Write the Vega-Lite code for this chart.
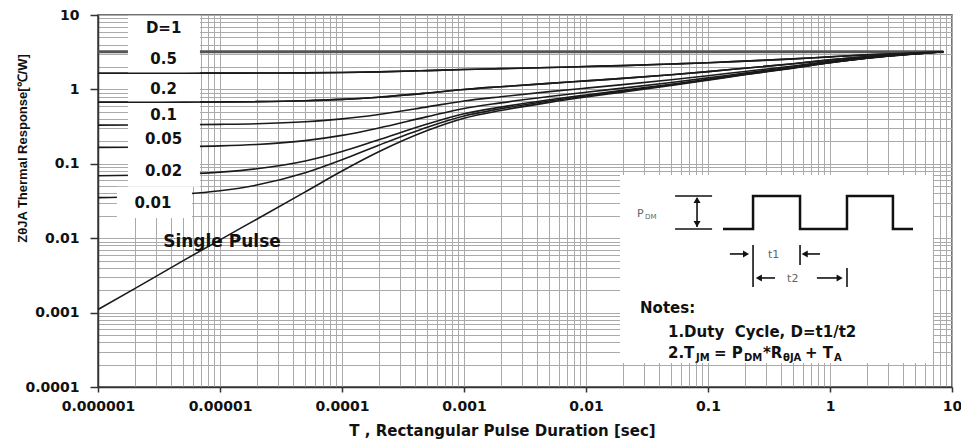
{
  "$schema": "https://vega.github.io/schema/vega-lite/v6.json",
  "width": 854,
  "height": 372,
  "autosize": "none",
  "padding": {"left": 98, "top": 15, "right": 9, "bottom": 57},
  "background": "white",
  "config": {
    "view": {"stroke": "#444444", "strokeWidth": 1.5},
    "axis": {
      "domainColor": "#333333",
      "domainWidth": 1.5,
      "tickColor": "#333333",
      "tickWidth": 1.5,
      "grid": true,
      "gridColor": "#aaaaaa",
      "gridWidth": 1,
      "labelFont": "DejaVu Sans",
      "labelFontWeight": "bold",
      "labelFontSize": 14,
      "labelColor": "#111111",
      "labelOverlap": false,
      "titleColor": "#111111",
      "titleFontWeight": "bold"
    }
  },
  "datasets": {
    "curves": [
      {"d": "1", "x": 1e-6, "y": 3.2}, {"d": "1", "x": 8.5, "y": 3.2},
      {"d": "0.5", "x": 1e-6, "y": 1.65}, {"d": "0.5", "x": 2e-6, "y": 1.65}, {"d": "0.5", "x": 5e-6, "y": 1.65}, {"d": "0.5", "x": 1e-5, "y": 1.655}, {"d": "0.5", "x": 2e-5, "y": 1.66}, {"d": "0.5", "x": 5e-5, "y": 1.67}, {"d": "0.5", "x": 0.0001, "y": 1.69}, {"d": "0.5", "x": 0.0002, "y": 1.72}, {"d": "0.5", "x": 0.0005, "y": 1.79}, {"d": "0.5", "x": 0.001, "y": 1.85}, {"d": "0.5", "x": 0.002, "y": 1.9}, {"d": "0.5", "x": 0.005, "y": 1.97}, {"d": "0.5", "x": 0.01, "y": 2.03}, {"d": "0.5", "x": 0.02, "y": 2.09}, {"d": "0.5", "x": 0.05, "y": 2.19}, {"d": "0.5", "x": 0.1, "y": 2.28}, {"d": "0.5", "x": 0.2, "y": 2.4}, {"d": "0.5", "x": 0.5, "y": 2.57}, {"d": "0.5", "x": 1, "y": 2.74}, {"d": "0.5", "x": 2, "y": 2.91}, {"d": "0.5", "x": 5, "y": 3.1}, {"d": "0.5", "x": 8.5, "y": 3.2},
      {"d": "0.2", "x": 1e-6, "y": 0.671}, {"d": "0.2", "x": 2e-6, "y": 0.672}, {"d": "0.2", "x": 5e-6, "y": 0.674}, {"d": "0.2", "x": 1e-5, "y": 0.678}, {"d": "0.2", "x": 2e-5, "y": 0.684}, {"d": "0.2", "x": 5e-5, "y": 0.704}, {"d": "0.2", "x": 0.0001, "y": 0.734}, {"d": "0.2", "x": 0.0002, "y": 0.786}, {"d": "0.2", "x": 0.0005, "y": 0.894}, {"d": "0.2", "x": 0.001, "y": 0.998}, {"d": "0.2", "x": 0.002, "y": 1.086}, {"d": "0.2", "x": 0.005, "y": 1.206}, {"d": "0.2", "x": 0.01, "y": 1.302}, {"d": "0.2", "x": 0.02, "y": 1.406}, {"d": "0.2", "x": 0.05, "y": 1.574}, {"d": "0.2", "x": 0.1, "y": 1.734}, {"d": "0.2", "x": 0.2, "y": 1.926}, {"d": "0.2", "x": 0.5, "y": 2.214}, {"d": "0.2", "x": 1, "y": 2.494}, {"d": "0.2", "x": 2, "y": 2.766}, {"d": "0.2", "x": 5, "y": 3.07}, {"d": "0.2", "x": 8.5, "y": 3.2},
      {"d": "0.1", "x": 1e-6, "y": 0.331}, {"d": "0.1", "x": 2e-6, "y": 0.332}, {"d": "0.1", "x": 5e-6, "y": 0.335}, {"d": "0.1", "x": 1e-5, "y": 0.339}, {"d": "0.1", "x": 2e-5, "y": 0.346}, {"d": "0.1", "x": 5e-5, "y": 0.368}, {"d": "0.1", "x": 0.0001, "y": 0.402}, {"d": "0.1", "x": 0.0002, "y": 0.461}, {"d": "0.1", "x": 0.0005, "y": 0.582}, {"d": "0.1", "x": 0.001, "y": 0.699}, {"d": "0.1", "x": 0.002, "y": 0.798}, {"d": "0.1", "x": 0.005, "y": 0.933}, {"d": "0.1", "x": 0.01, "y": 1.041}, {"d": "0.1", "x": 0.02, "y": 1.158}, {"d": "0.1", "x": 0.05, "y": 1.347}, {"d": "0.1", "x": 0.1, "y": 1.527}, {"d": "0.1", "x": 0.2, "y": 1.743}, {"d": "0.1", "x": 0.5, "y": 2.067}, {"d": "0.1", "x": 1, "y": 2.382}, {"d": "0.1", "x": 2, "y": 2.688}, {"d": "0.1", "x": 5, "y": 3.03}, {"d": "0.1", "x": 8.5, "y": 3.2},
      {"d": "0.05", "x": 1e-6, "y": 0.166}, {"d": "0.05", "x": 2e-6, "y": 0.167}, {"d": "0.05", "x": 5e-6, "y": 0.17}, {"d": "0.05", "x": 1e-5, "y": 0.174}, {"d": "0.05", "x": 2e-5, "y": 0.182}, {"d": "0.05", "x": 5e-5, "y": 0.205}, {"d": "0.05", "x": 0.0001, "y": 0.241}, {"d": "0.05", "x": 0.0002, "y": 0.303}, {"d": "0.05", "x": 0.0005, "y": 0.431}, {"d": "0.05", "x": 0.001, "y": 0.555}, {"d": "0.05", "x": 0.002, "y": 0.659}, {"d": "0.05", "x": 0.005, "y": 0.802}, {"d": "0.05", "x": 0.01, "y": 0.916}, {"d": "0.05", "x": 0.02, "y": 1.039}, {"d": "0.05", "x": 0.05, "y": 1.239}, {"d": "0.05", "x": 0.1, "y": 1.429}, {"d": "0.05", "x": 0.2, "y": 1.657}, {"d": "0.05", "x": 0.5, "y": 2.0}, {"d": "0.05", "x": 1, "y": 2.331}, {"d": "0.05", "x": 2, "y": 2.654}, {"d": "0.05", "x": 5, "y": 3.015}, {"d": "0.05", "x": 8.5, "y": 3.2},
      {"d": "0.02", "x": 1e-6, "y": 0.069}, {"d": "0.02", "x": 2e-6, "y": 0.07}, {"d": "0.02", "x": 5e-6, "y": 0.073}, {"d": "0.02", "x": 1e-5, "y": 0.0773}, {"d": "0.02", "x": 2e-5, "y": 0.0856}, {"d": "0.02", "x": 5e-5, "y": 0.109}, {"d": "0.02", "x": 0.0001, "y": 0.146}, {"d": "0.02", "x": 0.0002, "y": 0.21}, {"d": "0.02", "x": 0.0005, "y": 0.342}, {"d": "0.02", "x": 0.001, "y": 0.47}, {"d": "0.02", "x": 0.002, "y": 0.578}, {"d": "0.02", "x": 0.005, "y": 0.725}, {"d": "0.02", "x": 0.01, "y": 0.842}, {"d": "0.02", "x": 0.02, "y": 0.97}, {"d": "0.02", "x": 0.05, "y": 1.175}, {"d": "0.02", "x": 0.1, "y": 1.371}, {"d": "0.02", "x": 0.2, "y": 1.607}, {"d": "0.02", "x": 0.5, "y": 1.959}, {"d": "0.02", "x": 1, "y": 2.302}, {"d": "0.02", "x": 2, "y": 2.636}, {"d": "0.02", "x": 5, "y": 3.0}, {"d": "0.02", "x": 8.5, "y": 3.2},
      {"d": "0.01", "x": 1e-6, "y": 0.0351}, {"d": "0.01", "x": 2e-6, "y": 0.0361}, {"d": "0.01", "x": 5e-6, "y": 0.039}, {"d": "0.01", "x": 1e-5, "y": 0.0434}, {"d": "0.01", "x": 2e-5, "y": 0.0518}, {"d": "0.01", "x": 5e-5, "y": 0.0756}, {"d": "0.01", "x": 0.0001, "y": 0.113}, {"d": "0.01", "x": 0.0002, "y": 0.178}, {"d": "0.01", "x": 0.0005, "y": 0.311}, {"d": "0.01", "x": 0.001, "y": 0.44}, {"d": "0.01", "x": 0.002, "y": 0.549}, {"d": "0.01", "x": 0.005, "y": 0.697}, {"d": "0.01", "x": 0.01, "y": 0.816}, {"d": "0.01", "x": 0.02, "y": 0.945}, {"d": "0.01", "x": 0.05, "y": 1.153}, {"d": "0.01", "x": 0.1, "y": 1.351}, {"d": "0.01", "x": 0.2, "y": 1.588}, {"d": "0.01", "x": 0.5, "y": 1.945}, {"d": "0.01", "x": 1, "y": 2.291}, {"d": "0.01", "x": 2, "y": 2.628}, {"d": "0.01", "x": 5, "y": 3.0}, {"d": "0.01", "x": 8.5, "y": 3.2},
      {"d": "single", "x": 1e-6, "y": 0.0011}, {"d": "single", "x": 2e-6, "y": 0.0021}, {"d": "single", "x": 5e-6, "y": 0.005}, {"d": "single", "x": 1e-5, "y": 0.0095}, {"d": "single", "x": 2e-5, "y": 0.018}, {"d": "single", "x": 5e-5, "y": 0.042}, {"d": "single", "x": 0.0001, "y": 0.08}, {"d": "single", "x": 0.0002, "y": 0.145}, {"d": "single", "x": 0.0005, "y": 0.28}, {"d": "single", "x": 0.001, "y": 0.41}, {"d": "single", "x": 0.002, "y": 0.52}, {"d": "single", "x": 0.005, "y": 0.67}, {"d": "single", "x": 0.01, "y": 0.79}, {"d": "single", "x": 0.02, "y": 0.92}, {"d": "single", "x": 0.05, "y": 1.13}, {"d": "single", "x": 0.1, "y": 1.33}, {"d": "single", "x": 0.2, "y": 1.57}, {"d": "single", "x": 0.5, "y": 1.93}, {"d": "single", "x": 1, "y": 2.28}, {"d": "single", "x": 2, "y": 2.62}, {"d": "single", "x": 5, "y": 3.0}, {"d": "single", "x": 8.5, "y": 3.2}
    ],
    "boxes": [
      {"x": 1.76e-6, "x2": 6.85e-6, "y": 9.8, "y2": 0.049},
      {"x": 1.43e-6, "x2": 5.89e-6, "y": 0.049, "y2": 0.0187},
      {"x": 0.019, "x2": 6.98, "y": 0.0708, "y2": 0.00021}
    ],
    "wave": [
      {"i": 1, "x": 0.1327, "y": 0.0133}, {"i": 2, "x": 0.234, "y": 0.0133}, {"i": 3, "x": 0.234, "y": 0.0369}, {"i": 4, "x": 0.568, "y": 0.0369}, {"i": 5, "x": 0.568, "y": 0.0133},
      {"i": 6, "x": 1.378, "y": 0.0133}, {"i": 7, "x": 1.378, "y": 0.0369}, {"i": 8, "x": 3.28, "y": 0.0369}, {"i": 9, "x": 3.28, "y": 0.0133}, {"i": 10, "x": 4.79, "y": 0.0133}
    ],
    "segs": [
      {"x": 0.0537, "x2": 0.108, "y": 0.0369, "y2": 0.0369},
      {"x": 0.0537, "x2": 0.108, "y": 0.0133, "y2": 0.0133},
      {"x": 0.0813, "x2": 0.0813, "y": 0.0345, "y2": 0.0141},
      {"x": 0.151, "x2": 0.197, "y": 0.00614, "y2": 0.00614},
      {"x": 0.234, "x2": 0.234, "y": 0.0081, "y2": 0.00221},
      {"x": 0.568, "x2": 0.568, "y": 0.0081, "y2": 0.00437},
      {"x": 0.635, "x2": 0.828, "y": 0.00614, "y2": 0.00614},
      {"x": 0.2666, "x2": 0.354, "y": 0.00292, "y2": 0.00292},
      {"x": 0.781, "x2": 1.164, "y": 0.00292, "y2": 0.00292},
      {"x": 1.378, "x2": 1.378, "y": 0.00398, "y2": 0.00221}
    ],
    "heads": [
      {"x": 0.205, "y": 0.00614, "dir": "right"},
      {"x": 0.62, "y": 0.00614, "dir": "left"},
      {"x": 0.261, "y": 0.00292, "dir": "left"},
      {"x": 1.2, "y": 0.00292, "dir": "right"},
      {"x": 0.0813, "y": 0.0326, "dir": "up"},
      {"x": 0.0813, "y": 0.01552, "dir": "down"}
    ],
    "texts": [
      {"g": "curve", "x": 3.45e-6, "y": 6.68, "text": "D=1"},
      {"g": "curve", "x": 3.45e-6, "y": 2.56, "text": "0.5"},
      {"g": "curve", "x": 3.45e-6, "y": 1.01, "text": "0.2"},
      {"g": "curve", "x": 3.45e-6, "y": 0.453, "text": "0.1"},
      {"g": "curve", "x": 3.45e-6, "y": 0.2155, "text": "0.05"},
      {"g": "curve", "x": 3.45e-6, "y": 0.08, "text": "0.02"},
      {"g": "curve", "x": 2.82e-6, "y": 0.0297, "text": "0.01"},
      {"g": "single", "x": 1.038e-5, "y": 0.00889, "text": "Single Pulse"},
      {"g": "notes", "x": 0.02773, "y": 0.00115, "text": "Notes:"},
      {"g": "notes", "x": 0.04698, "y": 0.000548, "text": "1.Duty\u00a0 Cycle, D=t1/t2"},
      {"g": "eq", "x": 0.04698, "y": 0.000245, "text": "2.T"},
      {"g": "eq", "x": 0.1119, "y": 0.000245, "text": "= P"},
      {"g": "eq", "x": 0.2825, "y": 0.000245, "text": "*R"},
      {"g": "eq", "x": 0.6237, "y": 0.000245, "text": "+ T"},
      {"g": "sub", "x": 0.0798, "y": 0.0002234, "text": "JM"},
      {"g": "sub", "x": 0.1972, "y": 0.0002234, "text": "DM"},
      {"g": "sub", "x": 0.4121, "y": 0.0002234, "text": "θJA"},
      {"g": "sub", "x": 1.079, "y": 0.0002234, "text": "A"},
      {"g": "small", "x": 0.02618, "y": 0.01928, "text": "P"},
      {"g": "small", "x": 0.3105, "y": 0.00542, "text": "t1"},
      {"g": "small", "x": 0.4449, "y": 0.002576, "text": "t2"},
      {"g": "smallsub", "x": 0.03048, "y": 0.01811, "text": "DM"}
    ]
  },
  "encoding": {
    "x": {
      "field": "x",
      "type": "quantitative",
      "scale": {"type": "log", "domain": [1e-6, 10], "nice": false},
      "axis": {
        "title": "T , Rectangular Pulse Duration [sec]",
        "values": [1e-6, 2e-6, 3e-6, 4e-6, 5e-6, 6e-6, 7e-6, 8e-6, 9e-6, 1e-5, 2e-5, 3e-5, 4e-5, 5e-5, 6e-5, 7e-5, 8e-5, 9e-5, 0.0001, 0.0002, 0.0003, 0.0004, 0.0005, 0.0006, 0.0007, 0.0008, 0.0009, 0.001, 0.002, 0.003, 0.004, 0.005, 0.006, 0.007, 0.008, 0.009, 0.01, 0.02, 0.03, 0.04, 0.05, 0.06, 0.07, 0.08, 0.09, 0.1, 0.2, 0.3, 0.4, 0.5, 0.6, 0.7, 0.8, 0.9, 1, 2, 3, 4, 5, 6, 7, 8, 9, 10],
        "labelExpr": "abs(log(datum.value)/LN10 - round(log(datum.value)/LN10)) < 0.01 ? format(datum.value, '.6~f') : ''",
        "labelFlush": false,
        "labelPadding": 7,
        "tickSize": 5,
        "tickOpacity": {"condition": {"test": "abs(log(datum.value)/LN10 - round(log(datum.value)/LN10)) < 0.01", "value": 1}, "value": 0},
        "titleFont": "DejaVu Sans",
        "titleFontSize": 15,
        "titleX": 404,
        "titleY": 36,
        "titleBaseline": "top"
      }
    },
    "y": {
      "field": "y",
      "type": "quantitative",
      "scale": {"type": "log", "domain": [0.0001, 10], "nice": false},
      "axis": {
        "title": "ZθJA Thermal Response[℃/W]",
        "values": [0.0001, 0.0002, 0.0003, 0.0004, 0.0005, 0.0006, 0.0007, 0.0008, 0.0009, 0.001, 0.002, 0.003, 0.004, 0.005, 0.006, 0.007, 0.008, 0.009, 0.01, 0.02, 0.03, 0.04, 0.05, 0.06, 0.07, 0.08, 0.09, 0.1, 0.2, 0.3, 0.4, 0.5, 0.6, 0.7, 0.8, 0.9, 1, 2, 3, 4, 5, 6, 7, 8, 9, 10],
        "labelExpr": "abs(log(datum.value)/LN10 - round(log(datum.value)/LN10)) < 0.01 ? format(datum.value, '.6~f') : ''",
        "labelPadding": 11,
        "tickSize": 8,
        "tickOpacity": {"condition": {"test": "abs(log(datum.value)/LN10 - round(log(datum.value)/LN10)) < 0.01", "value": 1}, "value": 0},
        "titleFont": "Liberation Sans",
        "titleFontSize": 13,
        "titleX": -76,
        "titleY": 133,
        "titleBaseline": "middle"
      }
    }
  },
  "layer": [
    {
      "data": {"name": "curves"},
      "transform": [{"filter": "datum.d != '1'"}],
      "mark": {"type": "line", "color": "#1a1a1a", "strokeWidth": 1.6, "interpolate": "monotone"},
      "encoding": {"detail": {"field": "d"}}
    },
    {
      "data": {"name": "curves"},
      "transform": [{"filter": "datum.d == '1'"}],
      "mark": {"type": "line", "color": "#555555", "strokeWidth": 3},
      "encoding": {"detail": {"field": "d"}}
    },
    {
      "data": {"name": "boxes"},
      "mark": {"type": "rect", "fill": "white"},
      "encoding": {"x2": {"field": "x2"}, "y2": {"field": "y2"}}
    },
    {
      "data": {"name": "curves"},
      "transform": [{"filter": "datum.d == '0.5' || datum.d == '0.2'"}],
      "mark": {"type": "line", "color": "#1a1a1a", "strokeWidth": 1.6, "interpolate": "monotone"},
      "encoding": {"detail": {"field": "d"}}
    },
    {
      "data": {"name": "texts"},
      "transform": [{"filter": "datum.g == 'curve'"}],
      "mark": {"type": "text", "font": "DejaVu Sans", "fontWeight": "bold", "fontSize": 15, "color": "#111111", "align": "center", "baseline": "middle"},
      "encoding": {"text": {"field": "text"}}
    },
    {
      "data": {"name": "texts"},
      "transform": [{"filter": "datum.g == 'single'"}],
      "mark": {"type": "text", "font": "DejaVu Sans", "fontWeight": "bold", "fontSize": 17, "color": "#111111", "align": "center", "baseline": "middle"},
      "encoding": {"text": {"field": "text"}}
    },
    {
      "data": {"name": "wave"},
      "mark": {"type": "line", "color": "#111111", "strokeWidth": 2.5},
      "encoding": {"order": {"field": "i"}}
    },
    {
      "data": {"name": "segs"},
      "mark": {"type": "rule", "color": "#111111", "strokeWidth": 1.6},
      "encoding": {"x2": {"field": "x2"}, "y2": {"field": "y2"}}
    },
    {
      "data": {"name": "heads"},
      "mark": {"type": "point", "filled": true, "color": "#111111", "size": 50, "opacity": 1},
      "encoding": {
        "shape": {"field": "dir", "scale": {"domain": ["right", "left", "up", "down"], "range": ["triangle-right", "triangle-left", "triangle-up", "triangle-down"]}, "legend": null}
      }
    },
    {
      "data": {"name": "texts"},
      "transform": [{"filter": "datum.g == 'notes'"}],
      "mark": {"type": "text", "font": "DejaVu Sans", "fontWeight": "bold", "fontSize": 15, "color": "#111111", "align": "left", "baseline": "middle"},
      "encoding": {"text": {"field": "text"}}
    },
    {
      "data": {"name": "texts"},
      "transform": [{"filter": "datum.g == 'eq'"}],
      "mark": {"type": "text", "font": "DejaVu Sans", "fontWeight": "bold", "fontSize": 15, "color": "#111111", "align": "left", "baseline": "alphabetic"},
      "encoding": {"text": {"field": "text"}}
    },
    {
      "data": {"name": "texts"},
      "transform": [{"filter": "datum.g == 'sub'"}],
      "mark": {"type": "text", "font": "DejaVu Sans", "fontWeight": "bold", "fontSize": 10, "color": "#111111", "align": "left", "baseline": "alphabetic"},
      "encoding": {"text": {"field": "text"}}
    },
    {
      "data": {"name": "texts"},
      "transform": [{"filter": "datum.g == 'small'"}],
      "mark": {"type": "text", "font": "DejaVu Sans", "fontSize": 11, "color": "#666666", "align": "left", "baseline": "alphabetic"},
      "encoding": {"text": {"field": "text"}}
    },
    {
      "data": {"name": "texts"},
      "transform": [{"filter": "datum.g == 'smallsub'"}],
      "mark": {"type": "text", "font": "DejaVu Sans", "fontSize": 7, "color": "#666666", "align": "left", "baseline": "alphabetic"},
      "encoding": {"text": {"field": "text"}}
    }
  ]
}
